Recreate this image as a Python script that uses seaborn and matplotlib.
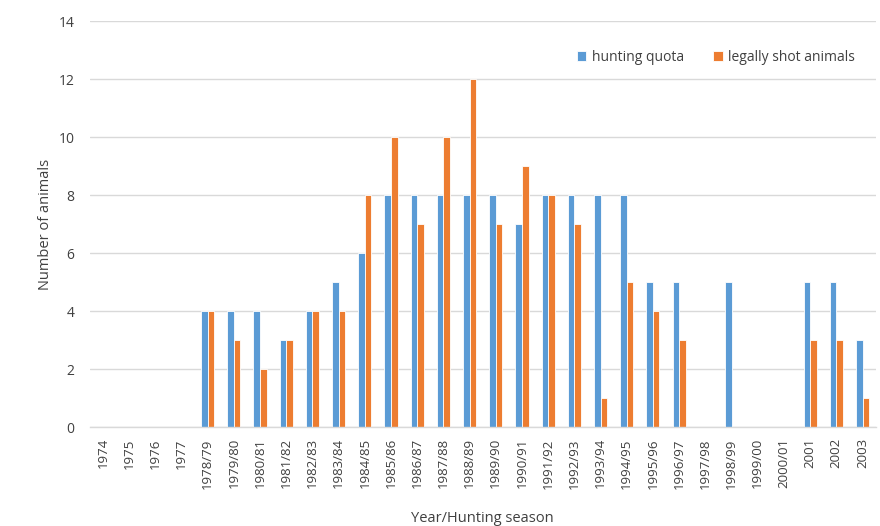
import numpy as np
import pandas as pd
import matplotlib
matplotlib.use("Agg")
import matplotlib.pyplot as plt
import seaborn as sns

seasons = ["1974", "1975", "1976", "1977", "1978/79", "1979/80", "1980/81", "1981/82",
           "1982/83", "1983/84", "1984/85", "1985/86", "1986/87", "1987/88", "1988/89",
           "1989/90", "1990/91", "1991/92", "1992/93", "1993/94", "1994/95", "1995/96",
           "1996/97", "1997/98", "1998/99", "1999/00", "2000/01", "2001", "2002", "2003"]
nan = np.nan
hunting_quota = [nan, nan, nan, nan, 4, 4, 4, 3, 4, 5, 6, 8, 8, 8, 8, 8, 7, 8, 8, 8, 8,
                 5, 5, nan, 5, nan, nan, 5, 5, 3]
legally_shot = [nan, nan, nan, nan, 4, 3, 2, 3, 4, 4, 8, 10, 7, 10, 12, 7, 9, 8, 7, 1, 5,
                4, 3, nan, nan, nan, nan, 3, 3, 1]
series_names = ["hunting quota", "legally shot animals"]
colors = ["#5B9BD5", "#ED7D31"]

df = pd.DataFrame({
    "season": seasons * 2,
    "value": hunting_quota + legally_shot,
    "series": [series_names[0]] * len(seasons) + [series_names[1]] * len(seasons),
})

sns.set_theme(style="white")
plt.rcParams["font.family"] = ["Open Sans", "DejaVu Sans"]

fig = plt.figure(figsize=(8.8, 5.26), dpi=100)
ax = fig.add_axes([0.102, 0.188, 0.893, 0.772])

sns.barplot(data=df, x="season", y="value", hue="series", order=seasons,
            hue_order=series_names, palette=colors, saturation=1, width=0.5,
            edgecolor="white", linewidth=0.6, ax=ax, legend=True)

ax.set_ylim(0, 14)
ax.set_yticks(range(0, 15, 2))
ax.set_xlim(-0.5, len(seasons) - 0.5)
ax.yaxis.grid(True, color="#D9D9D9", linewidth=1)
ax.set_axisbelow(True)
for s in ["top", "right", "left"]:
    ax.spines[s].set_visible(False)
ax.spines["bottom"].set_color("#D9D9D9")
ax.spines["bottom"].set_linewidth(1)

ax.tick_params(axis="x", rotation=90, labelsize=9.5, colors="#404040", length=0, pad=8)
ax.tick_params(axis="y", labelsize=10, colors="#404040", length=0, pad=11)
ax.set_xlabel("Year/Hunting season", fontsize=10.5, color="#404040", labelpad=16)
ax.set_ylabel("Number of animals", fontsize=10.5, color="#404040", labelpad=4)

leg = ax.legend(loc="upper right", bbox_to_anchor=(0.99, 0.96), ncol=2, frameon=False,
                fontsize=10, handlelength=0.7, handleheight=0.7, handletextpad=0.4,
                columnspacing=2.1, labelcolor="#404040")

fig.savefig("out.png", dpi=100)
